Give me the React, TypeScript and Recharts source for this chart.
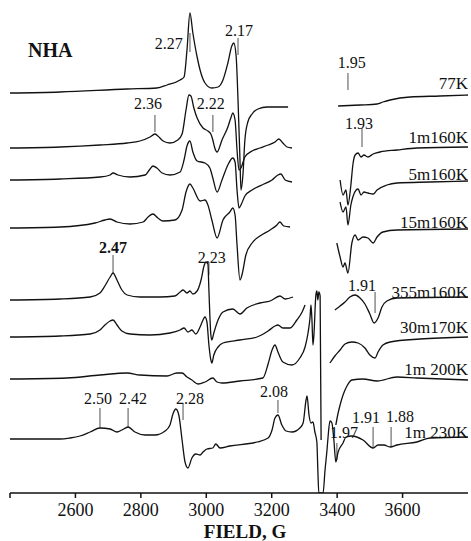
import React from 'react';
import { ComposedChart, Line, Scatter, XAxis, YAxis, ReferenceLine } from 'recharts';

const FONT = '"Liberation Serif", "Times New Roman", serif';

type Pt = [number, number | null];

// Field (G), intensity relative to each spectrum's baseline (arbitrary units)
const spec77K: Pt[] = [
  [2400, 0], [2553, 1], [2758, 4], [2849, 5], [2880, 8], [2920, 13], [2932, 16], [2941, 43], [2950, 80],
  [2959, 60], [2972, 36], [2981, 23], [2996, 10], [3017, 5], [3036, 6], [3051, 13], [3066, 30], [3078, 47],
  [3084, 50], [3091, 38], [3097, -7], [3103, -67], [3106, -97], [3112, -82], [3118, -47], [3127, -29],
  [3140, -21], [3158, -16], [3186, -14], [3250, -14], [3320, null],
  [3403, -13], [3470, -12], [3522, -11], [3540, -9], [3562, -7], [3623, -4], [3714, -3], [3800, -2],
];
const spec1m160K: Pt[] = [
  [2400, 0], [2553, 1], [2675, 3], [2758, 5], [2797, 7], [2828, 11], [2843, 14], [2852, 12], [2868, 7],
  [2889, 5], [2913, 8], [2926, 14], [2938, 38], [2947, 53], [2953, 52], [2962, 40], [2972, 30], [2990, 20],
  [3005, 17], [3014, 14], [3020, 8], [3026, 0], [3033, -4], [3048, 8], [3066, 21], [3075, 30], [3081, 35],
  [3088, 28], [3094, -2], [3100, -22], [3106, -20], [3118, -9], [3140, -3], [3164, 0], [3189, 3], [3210, 6],
  [3222, 9], [3234, 5], [3247, 1], [3262, 0], [3320, null],
  [3409, -32], [3418, -47], [3427, -42], [3433, -57], [3442, -37], [3448, -17], [3455, -7], [3464, -5],
  [3473, -9], [3482, -7], [3494, -9], [3510, -6], [3531, -4], [3583, -2], [3644, 0], [3800, 1],
];
const spec5m160K: Pt[] = [
  [2400, 0], [2553, 1], [2675, 3], [2706, 5], [2715, 7], [2730, 5], [2767, 3], [2813, 5], [2828, 11],
  [2837, 14], [2849, 12], [2865, 7], [2889, 5], [2920, 8], [2932, 20], [2941, 34], [2950, 39], [2959, 28],
  [2972, 19], [2996, 17], [3011, 12], [3020, 2], [3033, -12], [3048, 0], [3066, 15], [3081, 22], [3088, 18],
  [3094, -10], [3100, -28], [3106, -25], [3118, -16], [3140, -10], [3170, -5], [3201, 0], [3219, 5],
  [3228, 6], [3241, 0], [3262, -2], [3320, null],
  [3409, -22], [3418, -32], [3427, -27], [3433, -45], [3442, -25], [3448, -17], [3458, -10], [3464, -9],
  [3473, -15], [3482, -12], [3494, -13], [3510, -14], [3522, -10], [3552, -5], [3583, -3], [3684, -2], [3800, -1],
];
const spec15m160K: Pt[] = [
  [2400, 0], [2553, 1], [2660, 5], [2690, 8], [2706, 9], [2727, 6], [2767, 4], [2807, 6], [2822, 11],
  [2837, 14], [2852, 10], [2868, 7], [2904, 8], [2926, 18], [2938, 36], [2950, 44], [2959, 40], [2981, 27],
  [2996, 28], [3005, 23], [3017, 8], [3033, -10], [3051, 8], [3072, 16], [3081, 20], [3088, 13], [3094, -17],
  [3103, -52], [3109, -47], [3121, -27], [3140, -15], [3164, -8], [3195, -2], [3216, 3], [3225, 6],
  [3237, 2], [3256, 1], [3320, null],
  [3399, -15], [3409, -29], [3418, -39], [3424, -35], [3433, -45], [3445, -15], [3455, -7], [3464, -12],
  [3479, -9], [3494, -10], [3510, -15], [3522, -9], [3540, -4], [3583, -2], [3800, -1],
];
const spec355m160K: Pt[] = [
  [2400, 0], [2553, 1], [2645, 3], [2675, 7], [2690, 14], [2706, 23], [2715, 27], [2727, 20], [2742, 10],
  [2758, 5], [2797, 3], [2859, 3], [2904, 4], [2920, 8], [2929, 10], [2941, 7], [2950, 9], [2959, 6],
  [2972, 9], [2984, 20], [2993, 34], [2999, 38], [3005, 36], [3008, 10], [3014, -35], [3017, -40],
  [3023, -33], [3036, -20], [3051, -12], [3081, -9], [3103, -14], [3124, -8], [3164, -3], [3195, -1],
  [3225, 4], [3241, 1], [3265, 3], [3330, null],
  [3393, -10], [3409, -6], [3424, -2], [3439, 3], [3455, 5], [3470, 2], [3485, -4], [3500, -14],
  [3513, -23], [3525, -18], [3537, -7], [3552, -1], [3583, 2], [3800, 3],
];
const spec30m170K: Pt[] = [
  [2400, 0], [2553, 1], [2645, 3], [2675, 7], [2690, 12], [2706, 16], [2715, 17], [2727, 12], [2742, 6],
  [2767, 3], [2828, 2], [2889, 4], [2920, 7], [2932, 9], [2944, 5], [2956, 7], [2968, 3], [2981, 10],
  [2990, 17], [2996, 20], [3002, 15], [3008, -8], [3014, -23], [3017, -26], [3023, -18], [3036, -10],
  [3051, -6], [3103, -3], [3155, 0], [3189, 6], [3210, 11], [3219, 12], [3234, 9], [3256, 9], [3277, 17],
  [3293, 25], [3302, 32], [3340, null],
  [3378, -26], [3393, -19], [3409, -13], [3424, -7], [3445, -5], [3464, -6], [3485, -11], [3500, -18],
  [3516, -21], [3525, -15], [3540, -8], [3562, -5], [3653, -2], [3800, 0],
];
const spec1m200K: Pt[] = [
  [2400, 0], [2574, 1], [2675, 4], [2758, 6], [2797, 4], [2880, 3], [2910, 6], [2926, 6], [2941, 2],
  [2956, -1], [2975, -5], [2996, -3], [3020, 1], [3033, -3], [3048, -4], [3103, -2], [3173, 1], [3189, 15],
  [3201, 29], [3210, 34], [3219, 27], [3234, 17], [3262, 14], [3286, 21], [3302, 32], [3311, 46],
  [3317, 61], [3320, 74], [3323, 59], [3326, 34], [3329, 44], [3335, 84], [3338, 88], [3341, 79],
  [3344, 87], [3348, 83], [3351, -61], [3375, null],
  [3396, -46], [3403, -34], [3409, -26], [3418, -16], [3430, -7], [3445, -1], [3479, 0], [3522, -2],
  [3583, 2], [3644, 1], [3800, -1],
];
const spec1m230K: Pt[] = [
  [2400, 0], [2553, 0], [2583, 1], [2614, 3], [2645, 7], [2675, 11], [2706, 10], [2727, 7], [2742, 9],
  [2761, 12], [2782, 7], [2813, 4], [2843, 4], [2874, 8], [2889, 14], [2898, 25], [2907, 30], [2916, 24],
  [2926, -1], [2935, -23], [2944, -29], [2956, -19], [2968, -15], [2981, -16], [2990, -13], [3002, -10],
  [3020, -9], [3029, -5], [3042, -9], [3072, -7], [3155, -3], [3189, 1], [3201, 9], [3210, 21], [3219, 24],
  [3231, 14], [3244, 8], [3262, 7], [3286, 11], [3296, 16], [3305, 39], [3308, 43], [3314, 24], [3320, 16],
  [3326, 17], [3332, 7], [3338, -3], [3341, -31], [3344, -54], [3357, -54], [3363, -31], [3369, -11],
  [3372, 1], [3378, 18], [3384, 16], [3390, -1], [3396, -23], [3403, -13], [3418, -4], [3427, 2],
  [3445, 3], [3479, -1], [3510, -9], [3525, -6], [3543, -6], [3562, -8], [3583, -6], [3644, -3],
  [3684, 1], [3800, 2],
];

const spectrumNames = ['77K', '1m160K', '5m160K', '15m160K', '355m160K', '30m170K', '1m 200K', '1m 230K'];
const spectrumData = [spec77K, spec1m160K, spec5m160K, spec15m160K, spec355m160K, spec30m170K, spec1m200K, spec1m230K];
const spectrumOffsets = [400, 345, 313, 265, 193, 156, 114, 54];
const spectrumLabelY = [410, 356, 319, 271, 201, 166, 124, 61];

const xTicks = [2400, 2600, 2800, 3000, 3200, 3400, 3600];

// g-value annotations: text position (field, y) and marker segment (field, y1, y2)
const gTexts = [
  { t: '2.27', f: 2885, y: 450, bold: false },
  { t: '2.17', f: 3100, y: 463, bold: false },
  { t: '1.95', f: 3445, y: 431, bold: false },
  { t: '2.36', f: 2822, y: 390, bold: false },
  { t: '2.22', f: 3014, y: 390, bold: false },
  { t: '1.93', f: 3467, y: 370, bold: false },
  { t: '2.47', f: 2715, y: 246, bold: true },
  { t: '2.23', f: 3017, y: 236, bold: false },
  { t: '1.91', f: 3476, y: 208, bold: false },
  { t: '2.50', f: 2669, y: 95, bold: false },
  { t: '2.42', f: 2776, y: 95, bold: false },
  { t: '2.28', f: 2950, y: 95, bold: false },
  { t: '2.08', f: 3207, y: 102, bold: false },
  { t: '1.97', f: 3421, y: 61, bold: false },
  { t: '1.91', f: 3488, y: 76, bold: false },
  { t: '1.88', f: 3592, y: 77, bold: false },
];
const gMarks = [
  { f: 2950, y1: 441, y2: 460 },
  { f: 3097, y1: 438, y2: 455 },
  { f: 3433, y1: 403, y2: 420 },
  { f: 2843, y1: 361, y2: 378 },
  { f: 3020, y1: 361, y2: 378 },
  { f: 3476, y1: 346, y2: 365 },
  { f: 2715, y1: 220, y2: 238 },
  { f: 3008, y1: 218, y2: 231 },
  { f: 3516, y1: 180, y2: 201 },
  { f: 2675, y1: 65, y2: 85 },
  { f: 2761, y1: 66, y2: 85 },
  { f: 2929, y1: 73, y2: 90 },
  { f: 3219, y1: 80, y2: 93 },
  { f: 3399, y1: 33, y2: 50 },
  { f: 3510, y1: 46, y2: 66 },
  { f: 3565, y1: 46, y2: 66 },
];

const toRows = (pts: Pt[], off: number) => pts.map(([f, i]) => ({ f, v: i === null ? null : i + off }));

const textRows = [
  ...gTexts.map((g) => ({ f: g.f, v: g.y, t: g.t, anchor: 'middle', size: 16, bold: g.bold })),
  ...spectrumNames.map((n, i) => ({ f: 3800, v: spectrumLabelY[i], t: n, anchor: 'end', size: 17, bold: false })),
  { f: 2455, v: 443, t: 'NHA', anchor: 'start', size: 20, bold: true },
];

const TextShape = (p: any) => {
  const d = p.payload;
  return (
    <text
      x={p.cx}
      y={p.cy}
      textAnchor={d.anchor}
      dominantBaseline="central"
      fontSize={d.size}
      fontWeight={d.bold ? 'bold' : 'normal'}
      fontFamily={FONT}
      fill="#111"
    >
      {d.t}
    </text>
  );
};

export default function App() {
  return (
    <div style={{ position: 'absolute', left: 0, top: 0, width: 471, height: 541, background: '#fff' }}>
      <ComposedChart width={471} height={541} margin={{ top: 0, right: 3, bottom: 0, left: 10 }}>
        <XAxis
          type="number"
          dataKey="f"
          domain={[2400, 3800]}
          ticks={xTicks}
          allowDataOverflow
          height={48}
          tickSize={5}
          tickMargin={5}
          axisLine={{ stroke: '#111', strokeWidth: 1.5 }}
          tickLine={{ stroke: '#111', strokeWidth: 1.5 }}
          tick={{ fill: '#111', fontSize: 18, fontFamily: FONT }}
          tickFormatter={(v: number) => (v === 2400 ? '' : String(v))}
          label={{
            value: 'FIELD, G',
            position: 'insideBottom',
            offset: 3,
            dx: 6,
            style: { fill: '#111', fontSize: 19, fontWeight: 'bold', fontFamily: FONT },
          }}
        />
        <YAxis type="number" hide domain={[0, 493]} allowDataOverflow />
        {gMarks.map((m, i) => (
          <ReferenceLine
            key={'m' + i}
            segment={[{ x: m.f, y: m.y1 }, { x: m.f, y: m.y2 }]}
            stroke="#8a8a8a"
            strokeWidth={1.5}
          />
        ))}
        {spectrumData.map((pts, i) => (
          <Line
            key={spectrumNames[i]}
            data={toRows(pts, spectrumOffsets[i])}
            dataKey="v"
            type="monotone"
            stroke="#111"
            strokeWidth={1.3}
            dot={false}
            activeDot={false}
            isAnimationActive={false}
            connectNulls={false}
          />
        ))}
        <Scatter data={textRows} dataKey="v" shape={TextShape} isAnimationActive={false} />
      </ComposedChart>
    </div>
  );
}
